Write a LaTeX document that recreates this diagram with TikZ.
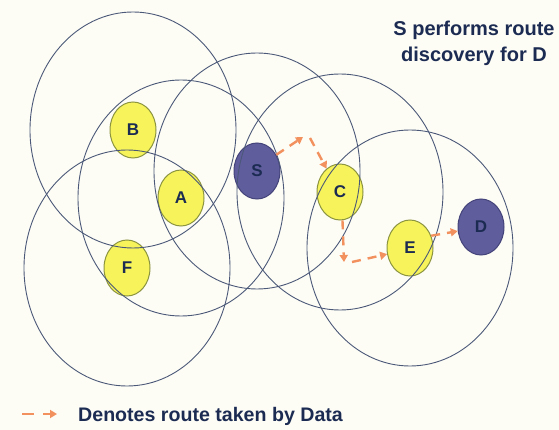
\documentclass[tikz,border=0pt]{standalone}
\usepackage{fontspec}
\setmainfont{Liberation Sans}
\usetikzlibrary{shapes.geometric,arrows.meta}
\definecolor{bg}{HTML}{FDFDF6}
\definecolor{ring}{HTML}{4B5878}
\definecolor{nodey}{HTML}{F6F45A}
\definecolor{nodeyb}{HTML}{8C9440}
\definecolor{nodep}{HTML}{5F5D9C}
\definecolor{nodepb}{HTML}{45447A}
\definecolor{navy}{HTML}{1C2B52}
\definecolor{routec}{HTML}{F2915E}
\begin{document}
\begin{tikzpicture}[x=1pt,y=-1pt,
  host/.style={ellipse, draw, line width=1pt, minimum width=46pt, minimum height=56pt, inner sep=0pt, font=\fontsize{17}{20}\selectfont\bfseries, text=navy},
  ynode/.style={host, fill=nodey, draw=nodeyb},
  pnode/.style={host, fill=nodep, draw=nodepb},
  rangering/.style={draw=ring, line width=0.9pt},
  routearrow/.style={draw=routec, line width=2.4pt, dash pattern=on 9pt off 7pt, -{Triangle[length=7pt,width=8pt]}},
]
\fill[bg] (0,0) rectangle (559,430);
\useasboundingbox (0,0) rectangle (559,430);

% nodes
\node[ynode] (B) at (133,130) {B};
\node[ynode] (A) at (181,198) {A};
\node[ynode] (F) at (127,268) {F};
\node[pnode] (S) at (257,171) {S};
\node[ynode] (C) at (340,192) {C};
\node[ynode] (E) at (410,248) {E};
\node[pnode] (D) at (481,227) {D};

% transmission ranges
\foreach \n in {B,A,F,S,C,E}
  \draw[rangering] (\n.center) ellipse [x radius=103pt, y radius=118pt];

% route taken by data
\coordinate (r1) at (303,137);
\coordinate (r2) at (310,138);
\coordinate (r3) at (344,262);
\coordinate (r4) at (352,262);
\draw[routearrow] (S.40) -- (r1);
\draw[routearrow] (r2) -- (C.120);
\draw[routearrow] (C.275) -- (r3);
\draw[routearrow] (r4) -- (E.195);
\draw[routearrow] (E.30) -- (D.190);

% title
\node[font=\fontsize{20}{26}\selectfont\bfseries, text=navy, align=center] (title) at (474,43) {S performs route\\discovery for D};

% legend
\coordinate (l1) at (22,414);
\coordinate (l2) at (57,414);
\draw[routearrow, dash pattern=on 12pt off 9pt] (l1) -- (l2);
\node[anchor=base west, font=\fontsize{19.6}{24}\selectfont\bfseries, text=navy, inner sep=0pt] (legend) at (78,421) {Denotes route taken by Data};
\end{tikzpicture}
\end{document}
